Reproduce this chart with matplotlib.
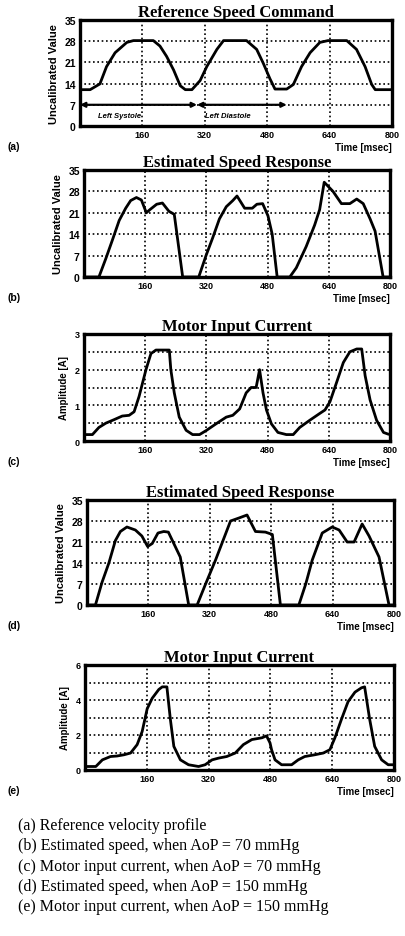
import matplotlib
matplotlib.use("Agg")
import matplotlib.pyplot as plt
from matplotlib.ticker import FixedLocator

# ---------------- data ----------------
t_a = [0, 26, 51, 68, 90, 120, 137, 188, 205, 222, 240, 257, 270, 287, 308, 325, 351, 368,
       427, 453, 470, 487, 500, 530, 547, 568, 590, 615, 636, 684, 709, 731, 748, 757, 800]
v_a = [12, 12, 13.9, 19.6, 24.2, 27.6, 28.2, 28.2, 26.4, 23, 18.5, 13.3, 12, 12, 15, 19.6, 25.3, 28.2,
       28.2, 25.3, 20.7, 15.6, 12.2, 12.2, 13.7, 19.6, 24.2, 27.6, 28.2, 28.2, 25.3, 19.6, 13.7, 12, 12]

t_b = [0, 39, 57, 74, 92, 109, 122, 137, 150, 163, 172, 190, 205, 222, 236, 258, 300, 319, 337, 354,
       372, 389, 400, 420, 440, 452, 467, 481, 492, 505, 538, 555, 581, 603, 616, 628, 651, 673, 695,
       713, 730, 748, 761, 782, 800]
v_b = [0, 0, 6, 12, 18.5, 22.5, 25, 26, 25.2, 21, 22, 23.8, 24.2, 21.5, 20.5, 0, 0, 7, 13, 19,
       23, 25, 26.5, 22.5, 22.5, 23.8, 24, 20, 14, 0, 0, 3, 10, 17, 22, 31, 28, 24, 24,
       25.5, 24, 19, 15, 0, 0]

t_c = [0, 22, 39, 57, 79, 100, 118, 131, 144, 162, 175, 188, 223, 227, 236, 249, 267, 284, 302,
       319, 345, 372, 389, 407, 424, 437, 450, 459, 468, 477, 490, 507, 529, 547, 564, 590, 616,
       630, 643, 660, 678, 695, 713, 726, 735, 748, 765, 783, 796, 800]
i_c = [0.18, 0.18, 0.38, 0.5, 0.6, 0.7, 0.72, 0.82, 1.25, 2.0, 2.45, 2.55, 2.55, 2.0, 1.35, 0.67,
       0.3, 0.18, 0.18, 0.29, 0.48, 0.67, 0.72, 0.9, 1.35, 1.5, 1.5, 2.0, 1.35, 0.87, 0.48, 0.24,
       0.18, 0.18, 0.38, 0.58, 0.77, 0.87, 1.1, 1.63, 2.2, 2.5, 2.58, 2.58, 1.83, 1.15, 0.58,
       0.24, 0.19, 0.19]

t_d = [0, 22, 39, 57, 74, 87, 104, 126, 143, 158, 170, 185, 200, 212, 243, 265, 287, 309, 335,
       374, 396, 417, 439, 465, 483, 504, 552, 570, 587, 613, 639, 657, 678, 696, 717, 735, 761,
       787, 800]
v_d = [0, 0, 7.5, 14, 21.5, 24.5, 26, 25, 23, 19.5, 20.5, 24, 24.5, 24.3, 16, 0, 0, 7, 15,
       28, 29, 30, 24.5, 24.3, 23.5, 0, 0, 7, 15, 24, 26, 25, 21, 21, 27, 23, 16,
       0, 0]

t_e = [0, 28, 45, 66, 83, 101, 118, 135, 148, 161, 174, 191, 200, 212, 221, 230, 247, 268, 294,
       311, 329, 346, 367, 389, 410, 432, 458, 470, 479, 483, 492, 509, 535, 552, 569, 595, 617,
       634, 647, 664, 681, 699, 716, 724, 737, 750, 768, 785, 800]
i_e = [0.2, 0.2, 0.58, 0.77, 0.8, 0.87, 0.97, 1.45, 2.2, 3.5, 4.1, 4.6, 4.75, 4.75, 2.9, 1.35,
       0.58, 0.3, 0.2, 0.3, 0.58, 0.68, 0.77, 0.97, 1.45, 1.74, 1.84, 1.95, 1.55, 1.16, 0.58,
       0.3, 0.3, 0.58, 0.77, 0.87, 0.97, 1.16, 1.84, 2.9, 3.9, 4.45, 4.7, 4.75, 2.9, 1.35, 0.58,
       0.3, 0.3]

x_ticks = [160, 320, 480, 640, 800]
speed_ticks = [0, 7, 14, 21, 28, 35]
speed_grid = [7, 14, 21, 28]
cur_c_ticks = [0, 1, 2, 3]
cur_c_grid = [0.5, 1, 1.5, 2, 2.5]
cur_e_ticks = [0, 2, 4, 6]
cur_e_grid = [1, 2, 3, 4, 5]

titles = ["Reference Speed Command", "Estimated Speed Response", "Motor Input Current",
          "Estimated Speed Response", "Motor Input Current"]
panel_labels = ["(a)", "(b)", "(c)", "(d)", "(e)"]
phase_bounds = [0, 300, 530]
phase_names = ["Left Systole", "Left Diastole"]
captions = ["(a) Reference velocity profile",
            "(b) Estimated speed, when AoP = 70 mmHg",
            "(c) Motor input current, when AoP = 70 mmHg",
            "(d) Estimated speed, when AoP = 150 mmHg",
            "(e) Motor input current, when AoP = 150 mmHg"]

# ---------------- layout ----------------
W, H = 405, 937
fig = plt.figure(figsize=(W / 100, H / 100), dpi=100)

# pixel rects: left, right, top, bottom
rects = [(80, 392, 21, 127), (84, 390, 171, 278), (84, 390, 335, 442),
         (87, 394, 501, 606), (85, 394, 666, 771)]

def add_ax(r):
    l, rgt, t, b = r
    return fig.add_axes([l / W, 1 - b / H, (rgt - l) / W, (b - t) / H])

serif = "Liberation Serif"
sans = "Liberation Sans"
dot = (0, (1.0, 1.6))

series = [(t_a, v_a), (t_b, v_b), (t_c, i_c), (t_d, v_d), (t_e, i_e)]
ylims = [35, 35, 3, 35, 6]
yticks = [speed_ticks, speed_ticks, cur_c_ticks, speed_ticks, cur_e_ticks]
ygrids = [speed_grid, speed_grid, cur_c_grid, speed_grid, cur_e_grid]
ylabels = ["Uncalibrated Value", "Uncalibrated Value", "Amplitude [A]",
           "Uncalibrated Value", "Amplitude [A]"]

for k, r in enumerate(rects):
    ax = add_ax(r)
    x, y = series[k]
    ax.plot(x, y, color="black", lw=2.0, solid_joinstyle="round", zorder=3)
    ax.set_xlim(0, 800)
    ax.set_ylim(0, ylims[k])
    ax.xaxis.set_major_locator(FixedLocator(x_ticks))
    ax.yaxis.set_major_locator(FixedLocator(yticks[k]))
    ax.grid(False)
    for xv in x_ticks[:-1]:
        ax.axvline(xv, color="black", lw=1.2, ls=dot, zorder=1)
    for yv in ygrids[k]:
        ax.axhline(yv, color="black", lw=1.2, ls=dot, zorder=1)
    ax.tick_params(which="both", length=0, pad=3)
    for lab in ax.get_xticklabels():
        lab.set_fontfamily(sans)
        lab.set_fontweight("bold")
        lab.set_fontsize(6.5)
    for lab in ax.get_yticklabels():
        lab.set_fontfamily(sans)
        lab.set_fontweight("bold")
        lab.set_fontsize(7.5 if ylims[k] == 35 else 6.5)
    for s in ax.spines.values():
        s.set_linewidth(2.4)
    ax.set_title(titles[k], fontfamily=serif, fontweight="bold", fontsize=12, pad=2)
    ax.set_ylabel(ylabels[k], fontfamily=sans, fontweight="bold",
                  fontsize=8 if ylims[k] == 35 else 7, labelpad=4)
    ax.text(1.0, -0.15, "Time [msec]", transform=ax.transAxes, ha="right", va="top",
            fontfamily=sans, fontweight="bold", fontsize=7)
    fig.text(8 / W, 1 - (r[3] + 20) / H, panel_labels[k], ha="left", va="center",
             fontfamily=sans, fontweight="bold", fontsize=7.5)
    if k == 0:
        for j in range(len(phase_names)):
            ax.annotate("", xy=(phase_bounds[j], 7), xytext=(phase_bounds[j + 1], 7),
                        arrowprops=dict(arrowstyle="<|-|>", color="black", lw=1.6,
                                        mutation_scale=7, shrinkA=0, shrinkB=0), zorder=4)
            ax.text(phase_bounds[j] + 45 - 25 * j, 3.5, phase_names[j], fontfamily=sans,
                    fontweight="bold", fontstyle="italic", fontsize=5.5, va="center")

for j, c in enumerate(captions):
    fig.text(18 / W, 1 - (826 + j * 20.3) / H, c, ha="left", va="center",
             fontfamily=serif, fontsize=11.5)

fig.savefig("out.png", dpi=100)
